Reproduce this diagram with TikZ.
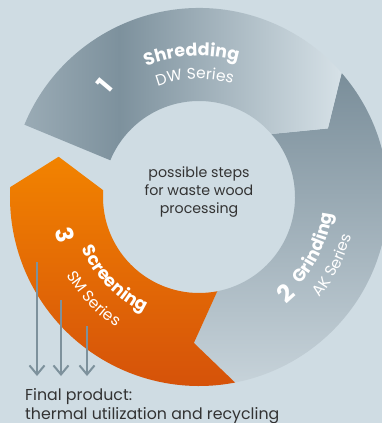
\documentclass[tikz,border=0pt]{standalone}
\usepackage{fontspec}
\setmainfont{Poppins}
\usepackage{tikz}
\usetikzlibrary{arrows.meta,decorations.text,positioning}

\definecolor{bgcol}{HTML}{CFDCE3}
\definecolor{shredA}{HTML}{9AABB5}
\definecolor{shredB}{HTML}{7D919D}
\definecolor{shredC}{HTML}{D6E1E7}
\definecolor{grindA}{HTML}{7A8E9A}
\definecolor{grindB}{HTML}{C6D2D9}
\definecolor{screenA}{HTML}{F28300}
\definecolor{screenB}{HTML}{D4500A}
\definecolor{dropcol}{HTML}{7D919C}
\definecolor{txtcol}{HTML}{333333}

\pgfdeclarehorizontalshading{shredfill}{100bp}{color(0bp)=(shredA); color(25bp)=(shredA); color(40bp)=(shredB); color(75bp)=(shredC); color(100bp)=(shredC)}

\tikzset{
  numlabel/.style={text=white, font=\fontsize{24}{24}\selectfont\bfseries, inner sep=0pt},
  bodytext/.style={text=txtcol, font=\fontsize{14.2}{18}\selectfont, inner sep=0pt},
  arctext/.style={decorate, decoration={text along path, text align=center, text color=white, text={#1}}},
  droparrow/.style={dropcol, line width=2pt, -{Straight Barb[length=9pt,width=15pt]}}
}

\begin{document}
\begin{tikzpicture}[x=1pt,y=1pt]
    \def\Rin{96} \def\Rout{189} \def\Rmid{146}
    \useasboundingbox (-199,-226) rectangle (183,197);
    \clip (-199,-226) rectangle (183,197);
    \fill[bgcol] (-199,-226) rectangle (183,197);
    % Step 2
    \path[top color=grindA, bottom color=grindB] (41:\Rout) arc[start angle=41, end angle=-79, radius=\Rout pt] -- (-92:\Rmid) -- (-79:\Rin) arc[start angle=-79, end angle=41, radius=\Rin pt] -- (28:\Rmid) -- cycle;
    % Step 1
    \path[shading=shredfill] (157.5:\Rout) arc[start angle=157.5, end angle=41, radius=\Rout pt] -- (28:\Rmid) -- (41:\Rin) arc[start angle=41, end angle=157.5, radius=\Rin pt] -- cycle;
    % Step 3
    \path[top color=screenA, bottom color=screenB] (-79:\Rout) arc[start angle=-79, end angle=-183, radius=\Rout pt] -- (-196:\Rmid) -- (-184:\Rin) arc[start angle=-184, end angle=-79, radius=\Rin pt] -- (-92:\Rmid) -- cycle;
    % Labels
    \node[numlabel, rotate=50] (one) at (130:146) {1};
    \path[arctext={|\fontsize{17.5}{17.5}\selectfont\bfseries|Shredding}] (128:141) arc[start angle=128, end angle=58, radius=141pt];
    \path[arctext={|\fontsize{15.5}{15.5}\selectfont|DW Series}] (132:118) arc[start angle=132, end angle=52, radius=118pt];
    \node[numlabel, rotate=42] (two) at (-48:130) {2};
    \path[arctext={|\fontsize{17.5}{17.5}\selectfont\bfseries|Grinding}] (-64:134) arc[start angle=-64, end angle=16, radius=134pt];
    \path[arctext={|\fontsize{15.5}{15.5}\selectfont|AK Series}] (-67:157) arc[start angle=-67, end angle=13, radius=157pt];
    \node[numlabel, rotate=-74] (three) at (196:139) {3};
    \path[arctext={|\fontsize{17.5}{17.5}\selectfont\bfseries|Screening}] (184:128) arc[start angle=184, end angle=264, radius=128pt];
    \path[arctext={|\fontsize{15.5}{15.5}\selectfont|SM Series}] (189:154) arc[start angle=189, end angle=259, radius=154pt];
    % Centre
    \node[bodytext, align=center] (steps) at (0,5) {possible steps\\for waste wood\\processing};
    % Output
    \foreach \i/\x/\y in {1/-162/-65, 2/-138/-103, 3/-112/-129} {
        \coordinate (drop\i) at (\x,\y);
        \coordinate (land\i) at (\x,-179);
        \draw[droparrow] (drop\i) -- (land\i);
    }
    \node[bodytext, font=\fontsize{15.8}{19}\selectfont, align=left, anchor=base west] (final) at (-174,-222) {Final product:\\thermal utilization and recycling};
\end{tikzpicture}
\end{document}
